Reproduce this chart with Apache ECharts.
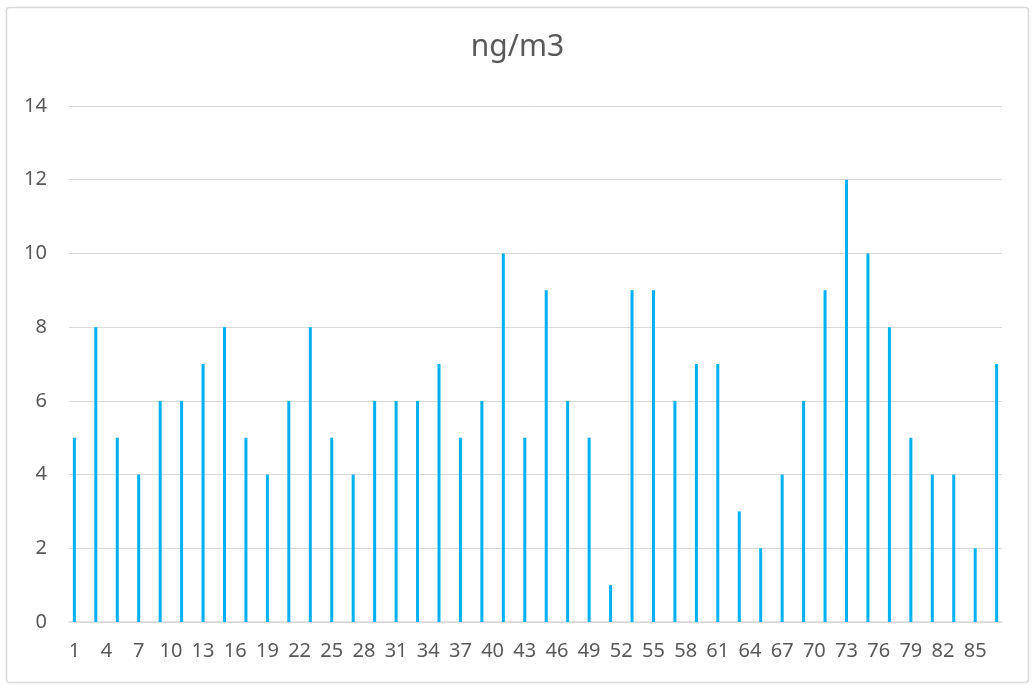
<!DOCTYPE html>
<html><head><meta charset="utf-8">
<script src="https://cdn.jsdelivr.net/npm/echarts@6/dist/echarts.min.js"></script>
<style>html,body{margin:0;padding:0;background:#fff}#c{width:1035px;height:685px}</style>
</head><body><div id="c"></div>
<script>
var titleText = 'ng/m3';
var categories = [];
for (var i = 1; i <= 87; i++) categories.push(String(i));
var values = [5,'-',8,'-',5,'-',4,'-',6,'-',6,'-',7,'-',8,'-',5,'-',4,'-',6,'-',8,'-',5,'-',4,'-',6,'-',6,'-',6,'-',7,'-',5,'-',6,'-',10,'-',5,'-',9,'-',6,'-',5,'-',1,'-',9,'-',9,'-',6,'-',7,'-',7,'-',3,'-',2,'-',4,'-',6,'-',9,'-',12,'-',10,'-',8,'-',5,'-',4,'-',4,'-',2,'-',7];
var yTicks = {min: 0, max: 14, interval: 2};
var font = 'Noto Sans';
var labelRich = {t: {fontFamily: font, fontSize: 20, color: '#595959'}};
var chart = echarts.init(document.getElementById('c'));
chart.setOption({
  animation: false,
  backgroundColor: '#fff',
  graphic: [{type:'rect', shape:{x:6.5,y:7.5,width:1022,height:675,r:3}, style:{fill:'none',stroke:'#d9d9d9',lineWidth:1.5}, silent:true}],
  title: {text: titleText, left: 'center', top: 27, textStyle:{fontFamily: font, fontSize: 30, fontWeight: 'normal', color:'#595959'}},
  grid: {left: 69, right: 33, top: 106, bottom: 63},
  xAxis: {type:'category', data: categories, boundaryGap: true,
    axisLine:{lineStyle:{color:'#d9d9d9', width:1.5}}, axisTick:{show:false},
    axisLabel:{interval: 2, formatter: '{t|{value}}', rich: labelRich, margin: 19}},
  yAxis: {type:'value', min: yTicks.min, max: yTicks.max, interval: yTicks.interval,
    axisLine:{show:false}, axisTick:{show:false},
    splitLine:{lineStyle:{color:'#d9d9d9', width:1}},
    axisLabel:{formatter: '{t|{value}}', rich: labelRich, margin: 22}},
  series: [{type:'bar', data: values, barWidth: 3, itemStyle:{color:'#00b0f0'}}]
});
</script></body></html>
